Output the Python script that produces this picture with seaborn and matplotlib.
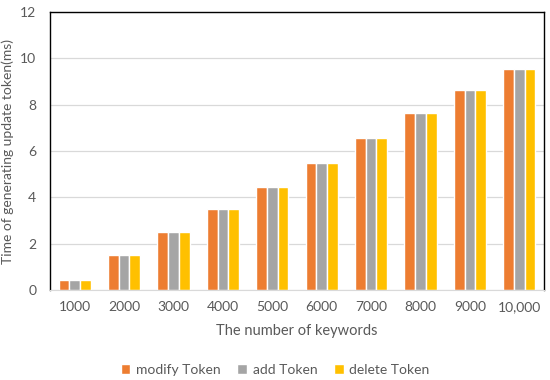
import pandas as pd
import matplotlib
matplotlib.use("Agg")
import matplotlib.pyplot as plt
import seaborn as sns

keywords = ["1000", "2000", "3000", "4000", "5000", "6000", "7000", "8000", "9000", "10,000"]
modify_token = [0.45, 1.5, 2.5, 3.5, 4.45, 5.5, 6.55, 7.65, 8.62, 9.56]
add_token = [0.45, 1.5, 2.5, 3.5, 4.45, 5.5, 6.55, 7.65, 8.62, 9.56]
delete_token = [0.45, 1.5, 2.5, 3.5, 4.45, 5.5, 6.55, 7.65, 8.62, 9.56]
series = ["modify Token", "add Token", "delete Token"]
colors = ["#ED7D31", "#A5A5A5", "#FFC000"]

df = pd.DataFrame({
    "keywords": keywords * 3,
    "time": modify_token + add_token + delete_token,
    "series": [s for s in series for _ in keywords],
})

sns.set_style("white")
plt.rcParams["font.family"] = ["Lato", "DejaVu Sans"]

fig = plt.figure(figsize=(5.5, 3.8), dpi=100)
ax = fig.add_axes([0.091, 0.237, 0.898, 0.731])

sns.barplot(data=df, x="keywords", y="time", hue="series", palette=colors,
            width=0.65, gap=0, saturation=1, ax=ax, legend=True)

ax.set_ylim(0, 12)
ax.set_yticks(range(0, 13, 2))
ax.set_xlim(-0.5, len(keywords) - 0.5)
ax.yaxis.grid(True, color="#D9D9D9", linewidth=0.9)
ax.set_axisbelow(True)
for side in ["left", "top", "right"]:
    ax.spines[side].set_color("black")
    ax.spines[side].set_linewidth(1.0)
ax.spines["bottom"].set_color("#D9D9D9")
ax.tick_params(axis="x", length=0, labelsize=10, colors="#595959", pad=8)
ax.tick_params(axis="y", length=0, labelsize=10, colors="#595959", pad=10)

ax.set_xlabel("The number of keywords", fontsize=10.5, color="#595959", labelpad=8)
ax.set_ylabel("Time of generating update token(ms)", fontsize=10, color="#595959", labelpad=4)

ax.legend_.remove()
handles, labels = ax.get_legend_handles_labels()
fig.legend(handles[:3], labels[:3], loc="center", bbox_to_anchor=(0.5, 0.027),
           ncol=3, frameon=False, fontsize=10, handlelength=0.7, handleheight=0.7,
           columnspacing=1.2, handletextpad=0.4, labelcolor="#595959")

fig.savefig("out.png", dpi=100)
